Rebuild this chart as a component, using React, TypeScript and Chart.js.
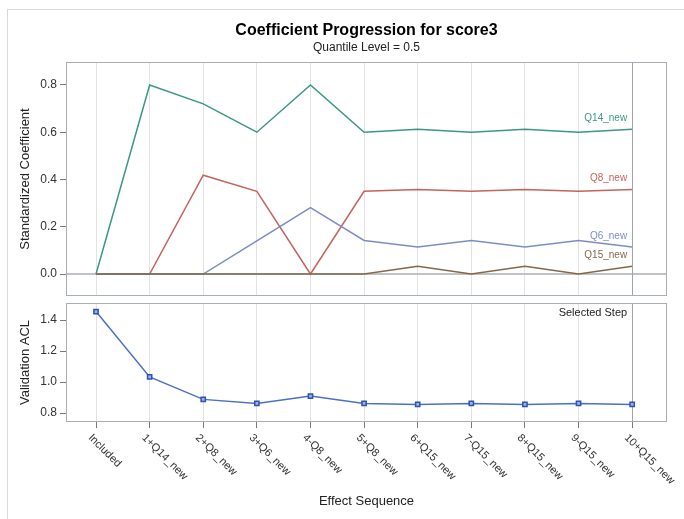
import React, { useEffect, useRef } from 'react';
import { Chart, registerables } from 'chart.js';

Chart.register(...registerables);

// ---------- data ----------
const CATEGORIES = [
  'Included', '1+Q14_new', '2+Q8_new', '3+Q6_new', '4-Q8_new', '5+Q8_new',
  '6+Q15_new', '7-Q15_new', '8+Q15_new', '9-Q15_new', '10+Q15_new',
];
const Q14_NEW = [0, 0.8, 0.72, 0.6, 0.8, 0.6, 0.613, 0.6, 0.613, 0.6, 0.613];
const Q8_NEW = [0, 0, 0.418, 0.35, 0, 0.35, 0.358, 0.35, 0.358, 0.35, 0.358];
const Q6_NEW = [0, 0, 0, 0.14, 0.281, 0.142, 0.114, 0.142, 0.114, 0.142, 0.114];
const Q15_NEW = [0, 0, 0, 0, 0, 0, 0.033, 0, 0.033, 0, 0.033];
const VALIDATION_ACL = [1.455, 1.033, 0.888, 0.862, 0.909, 0.862, 0.855, 0.862, 0.855, 0.862, 0.855];
const COEF_TICKS = [0, 0.2, 0.4, 0.6, 0.8];
const ACL_TICKS = [0.8, 1.0, 1.2, 1.4];
const SELECTED_STEP = 10;

const TITLE = 'Coefficient Progression for score3';
const SUBTITLE = 'Quantile Level = 0.5';

// ---------- styles ----------
const FONT = '"Liberation Sans", Arial, Helvetica, sans-serif';
const TEAL = '#3a9787';
const RED = '#c4645b';
const BLUE = '#7d8cc6';
const BROWN = '#83684a';
const ACL_LINE = '#4a70c8';
const GRID = '#e3e3e3';
const FRAME = '#a8aeb3';
const TICK = '#7a7a7a';
const TEXT = '#333333';

Chart.defaults.font.family = FONT;

const pts = (arr: number[]) => arr.map((v, i) => ({ x: i, y: v }));

const xScaleBase = {
  type: 'linear' as const,
  min: -0.56,
  max: 10.65,
  afterBuildTicks: (s: any) => {
    s.ticks = CATEGORIES.map((_, i) => ({ value: i }));
  },
  ticks: { display: false },
  border: { display: false },
};

function drawFrame(chart: any) {
  const { ctx, chartArea: a } = chart;
  ctx.save();
  ctx.strokeStyle = FRAME;
  ctx.lineWidth = 1;
  const l = Math.round(a.left) + 0.5;
  const t = Math.round(a.top) + 0.5;
  const r = Math.round(a.right) - 0.5;
  const b = Math.round(a.bottom) - 0.5;
  ctx.strokeRect(l, t, r - l, b - t);
  ctx.restore();
}

function drawSelectedLine(chart: any) {
  const { ctx, chartArea: a, scales } = chart;
  const x = Math.round(scales.x.getPixelForValue(SELECTED_STEP)) + 0.5;
  ctx.save();
  ctx.strokeStyle = '#a0a4a8';
  ctx.lineWidth = 1;
  ctx.beginPath();
  ctx.moveTo(x, a.top);
  ctx.lineTo(x, a.bottom);
  ctx.stroke();
  ctx.restore();
}

const topPlugin = {
  id: 'topDecor',
  beforeDatasetsDraw(chart: any) {
    const { ctx, chartArea: a, scales } = chart;
    const y0 = scales.y.getPixelForValue(0);
    ctx.save();
    ctx.strokeStyle = '#bfc3c7';
    ctx.lineWidth = 2;
    ctx.beginPath();
    ctx.moveTo(a.left, y0);
    ctx.lineTo(a.right, y0);
    ctx.stroke();
    ctx.restore();
    drawSelectedLine(chart);
  },
  afterDraw(chart: any) {
    const { ctx, chartArea: a, scales } = chart;
    drawFrame(chart);
    const cx = (a.left + a.right) / 2;
    ctx.save();
    ctx.fillStyle = '#000';
    ctx.textAlign = 'center';
    ctx.textBaseline = 'middle';
    ctx.font = `bold 16px ${FONT}`;
    ctx.fillText(TITLE, cx, 31);
    ctx.fillStyle = '#222';
    ctx.font = `12px ${FONT}`;
    ctx.fillText(SUBTITLE, cx, 48);
    const labels: [string, number[], string][] = [
      ['Q14_new', Q14_NEW, TEAL],
      ['Q8_new', Q8_NEW, RED],
      ['Q6_new', Q6_NEW, BLUE],
      ['Q15_new', Q15_NEW, BROWN],
    ];
    ctx.font = `10px ${FONT}`;
    ctx.textAlign = 'right';
    const xr = scales.x.getPixelForValue(SELECTED_STEP) - 5;
    labels.forEach(([name, arr, color]) => {
      const y = scales.y.getPixelForValue(arr[arr.length - 1]) - 11;
      ctx.fillStyle = color;
      ctx.fillText(name, xr, y);
    });
    ctx.restore();
  },
};

const bottomPlugin = {
  id: 'bottomDecor',
  beforeDatasetsDraw(chart: any) {
    drawSelectedLine(chart);
  },
  afterDraw(chart: any) {
    const { ctx, chartArea: a, scales } = chart;
    drawFrame(chart);
    ctx.save();
    ctx.fillStyle = '#222';
    ctx.font = `11px ${FONT}`;
    ctx.textAlign = 'right';
    ctx.textBaseline = 'middle';
    ctx.fillText('Selected Step', scales.x.getPixelForValue(SELECTED_STEP) - 5, a.top + 10);
    ctx.fillStyle = TEXT;
    ctx.textAlign = 'left';
    CATEGORIES.forEach((c, i) => {
      const x = scales.x.getPixelForValue(i);
      ctx.save();
      ctx.translate(x - 6, a.bottom + 14);
      ctx.rotate(Math.PI / 4);
      ctx.fillText(c, 0, 0);
      ctx.restore();
    });
    ctx.font = `13px ${FONT}`;
    ctx.fillStyle = '#222';
    ctx.textAlign = 'center';
    ctx.fillText('Effect Sequence', (a.left + a.right) / 2, a.bottom + 79);
    ctx.restore();
  },
};

const zeroPad = (s: any) => {
  s.paddingTop = 0;
  s.paddingBottom = 0;
  s.paddingLeft = 0;
  s.paddingRight = 0;
};

export default function App() {
  const topRef = useRef<HTMLCanvasElement>(null);
  const botRef = useRef<HTMLCanvasElement>(null);

  useEffect(() => {
    const line = (label: string, data: number[], color: string) => ({
      label,
      data: pts(data),
      borderColor: color,
      backgroundColor: color,
      borderWidth: 1.5,
      pointRadius: 0,
      tension: 0,
      fill: false,
    });

    const top = new Chart(topRef.current!, {
      type: 'line',
      data: {
        datasets: [
          line('Q15_new', Q15_NEW, BROWN),
          line('Q6_new', Q6_NEW, BLUE),
          line('Q8_new', Q8_NEW, RED),
          line('Q14_new', Q14_NEW, TEAL),
        ],
      },
      options: {
        animation: false,
        responsive: false,
        events: [],
        layout: { padding: { top: 62, right: 17, bottom: 4, left: 0 } },
        plugins: { legend: { display: false }, tooltip: { enabled: false } },
        scales: {
          x: {
            ...xScaleBase,
            grid: { color: GRID, drawTicks: false },
            afterFit: (s: any) => { s.height = 0; zeroPad(s); },
          },
          y: {
            min: -0.093,
            max: 0.897,
            afterBuildTicks: (s: any) => { s.ticks = COEF_TICKS.map((v) => ({ value: v })); },
            ticks: { callback: (v: any) => Number(v).toFixed(1), color: TEXT, font: { size: 12 }, padding: 3 },
            grid: { drawOnChartArea: false, tickLength: 6, tickColor: TICK },
            border: { display: false },
            title: { display: true, text: 'Standardized Coefficient', color: '#222', font: { size: 13 }, padding: { top: 18, bottom: 0 } },
            afterFit: (s: any) => { s.width = 66; zeroPad(s); },
          },
        },
      } as any,
      plugins: [topPlugin],
    });

    const bottom = new Chart(botRef.current!, {
      type: 'line',
      data: {
        datasets: [
          {
            label: 'Validation ACL',
            data: pts(VALIDATION_ACL),
            borderColor: ACL_LINE,
            borderWidth: 1.5,
            pointStyle: 'rect',
            pointRadius: 3,
            pointBorderWidth: 1.5,
            pointBorderColor: '#2f52ad',
            pointBackgroundColor: '#9db2ea',
            tension: 0,
            fill: false,
          },
        ],
      },
      options: {
        animation: false,
        responsive: false,
        events: [],
        layout: { padding: { top: 7, right: 17, bottom: 0, left: 0 } },
        plugins: { legend: { display: false }, tooltip: { enabled: false } },
        scales: {
          x: {
            ...xScaleBase,
            grid: { color: GRID, drawTicks: true, tickLength: 6, tickColor: TICK },
            afterFit: (s: any) => { s.height = 97; zeroPad(s); },
          },
          y: {
            min: 0.742,
            max: 1.51,
            afterBuildTicks: (s: any) => { s.ticks = ACL_TICKS.map((v) => ({ value: v })); },
            ticks: { callback: (v: any) => Number(v).toFixed(1), color: TEXT, font: { size: 12 }, padding: 3 },
            grid: { drawOnChartArea: false, tickLength: 6, tickColor: TICK },
            border: { display: false },
            title: { display: true, text: 'Validation ACL', color: '#222', font: { size: 13 }, padding: { top: 18, bottom: 0 } },
            afterFit: (s: any) => { s.width = 66; zeroPad(s); },
          },
        },
      } as any,
      plugins: [bottomPlugin],
    });

    return () => {
      top.destroy();
      bottom.destroy();
    };
  }, []);

  return (
    <div style={{ position: 'absolute', left: 0, top: 0, width: 684, height: 519, overflow: 'hidden', background: '#fff' }}>
      <div style={{ position: 'absolute', left: 7, top: 9, width: 800, height: 600, border: '1px solid #d9d9d9' }} />
      <canvas ref={topRef} width={684} height={300} style={{ position: 'absolute', left: 0, top: 0, width: 684, height: 300 }} />
      <canvas ref={botRef} width={684} height={223} style={{ position: 'absolute', left: 0, top: 296, width: 684, height: 223 }} />
    </div>
  );
}
